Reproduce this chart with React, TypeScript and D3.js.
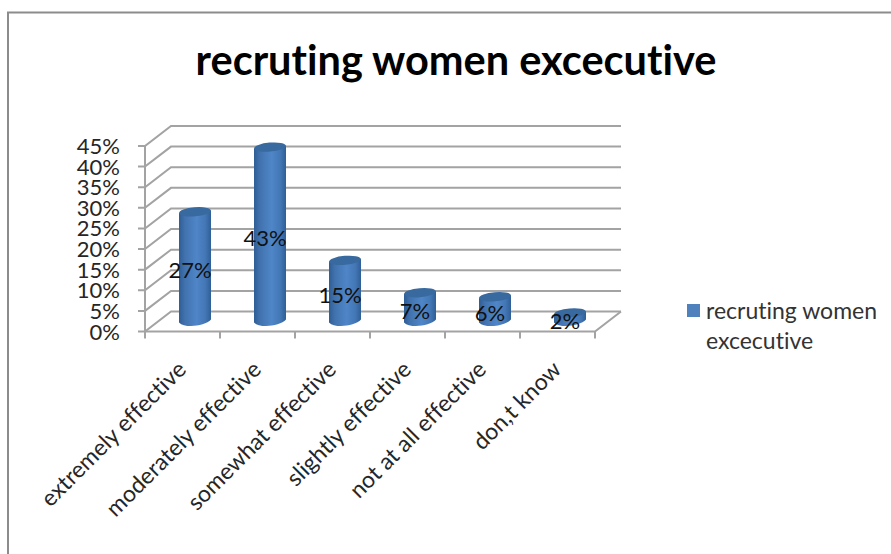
import React from "react";
import * as d3 from "d3";

const categories = [
  "extremely effective",
  "moderately effective",
  "somewhat effective",
  "slightly effective",
  "not at all effective",
  "don,t know",
];
const values = [27, 43, 15, 7, 6, 2];
const yTicks = [0, 5, 10, 15, 20, 25, 30, 35, 40, 45];
const titleText = "recruting women excecutive";
const legendLines = ["recruting women", "excecutive"];

const FONT = "Lato, 'Open Sans', sans-serif";
const noLigatures = { fontVariantLigatures: "none" } as const;
const depthX = 26;
const depthY = -20;

// Front plane of the 3-D box; the back wall is this plane shifted by the depth.
const y = d3.scaleLinear().domain([0, 45]).range([331.5, 146]);
const x = d3.scaleBand<string>().domain(categories).range([145, 595]);
// Cylinders stand in the middle of the floor, half the depth behind the front edge.
const barY = d3.scaleLinear().domain([0, 45]).range([321, 139]);
const barShift = 12.5;

const rx = 16;
const ry = 4.5;
const tilt = -5;

function Cylinder({ cx, top, base, id }: { cx: number; top: number; base: number; id: string }) {
  const dy = rx * Math.sin((tilt * Math.PI) / 180);
  const body = d3.path();
  body.moveTo(cx - rx, top - dy);
  body.lineTo(cx - rx, base - dy);
  body.bezierCurveTo(cx - rx + 6, base - dy + ry + 2, cx + rx - 6, base + dy + ry + 2, cx + rx, base + dy);
  body.lineTo(cx + rx, top + dy);
  body.closePath();
  return (
    <g>
      <path d={body.toString()} fill={`url(#${id})`} />
      <ellipse cx={cx} cy={top} rx={rx} ry={ry} fill="#38699f" transform={`rotate(${tilt} ${cx} ${top})`} />
    </g>
  );
}

export default function App() {
  const gridColor = "#a3a3a3";
  const gridWidth = 2;
  const back = (v: number) => y(v) + depthY;
  return (
    <svg
      width={891}
      height={554}
      style={{ position: "absolute", left: 0, top: 0, display: "block", background: "#fff" }}
    >
      <defs>
        <linearGradient id="cyl" x1="0" x2="1" y1="0" y2="0">
          <stop offset="0" stopColor="#2f5d94" />
          <stop offset="0.18" stopColor="#4172ae" />
          <stop offset="0.55" stopColor="#4f86c8" />
          <stop offset="0.82" stopColor="#4377b5" />
          <stop offset="1" stopColor="#305f97" />
        </linearGradient>
      </defs>

      {/* chart area frame */}
      <path d="M8,554 V12.5 H891" fill="none" stroke="#8c8c8c" strokeWidth={2} />

      <text
        x={456}
        y={75}
        textAnchor="middle"
        fontFamily={FONT}
        fontWeight={700}
        fontSize={41.5}
        fill="#000"
        style={noLigatures}
      >
        {titleText}
      </text>

      {/* gridlines: along the back wall, then down the side wall to the value axis */}
      {yTicks.map((t) => (
        <path
          key={t}
          d={`M138,${y(t)} H145 L${145 + depthX},${back(t)} H${595 + depthX}`}
          fill="none"
          stroke={gridColor}
          strokeWidth={gridWidth}
        />
      ))}
      {/* floor front edge, right edge and value axis */}
      <path
        d={`M145,${y(45)} V${y(0)} H595 L${595 + depthX},${back(0)}`}
        fill="none"
        stroke={gridColor}
        strokeWidth={gridWidth}
      />
      {d3.range(categories.length + 1).map((i) => {
        const px = 145 + x.step() * i;
        return <line key={i} x1={px} x2={px} y1={y(0)} y2={y(0) + 7} stroke={gridColor} strokeWidth={gridWidth} />;
      })}

      {yTicks.map((t) => (
        <text key={t} x={120} y={y(t) + 8} textAnchor="end" fontFamily={FONT} fontSize={22} fill="#262626">
          {t}%
        </text>
      ))}

      {categories.map((c, i) => {
        const cx = x(c)! + x.bandwidth() / 2 + barShift;
        return <Cylinder key={c} id="cyl" cx={cx} top={barY(values[i])} base={barY(0)} />;
      })}

      {categories.map((c, i) => {
        const cx = x(c)! + x.bandwidth() / 2 + barShift;
        const ly = (barY(values[i]) + barY(0)) / 2 + 12;
        return (
          <text key={c} x={cx - 5} y={ly} textAnchor="middle" fontFamily={FONT} fontSize={22} fill="#111">
            {values[i]}%
          </text>
        );
      })}

      {categories.map((c) => {
        const cx = x(c)! + x.bandwidth() / 2;
        return (
          <text
            key={c}
            transform={`translate(${cx + 5},${371}) rotate(-45)`}
            textAnchor="end"
            fontFamily={FONT}
            fontSize={23}
            fill="#262626"
            style={noLigatures}
          >
            {c}
          </text>
        );
      })}

      <rect x={687} y={304} width={13} height={13} fill="#4f81bd" />
      {legendLines.map((l, i) => (
        <text key={l} x={706} y={319 + i * 30} fontFamily={FONT} fontSize={23} fill="#333" style={noLigatures}>
          {l}
        </text>
      ))}
    </svg>
  );
}
